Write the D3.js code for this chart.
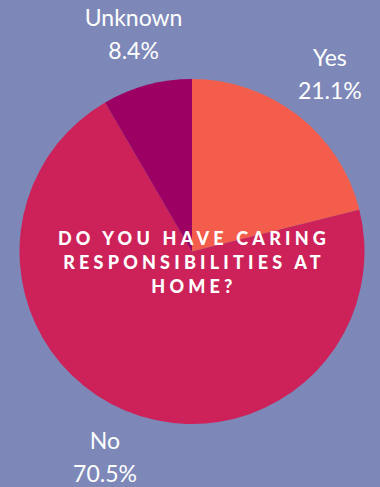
<!DOCTYPE html>
<html>
<head>
<meta charset="utf-8">
<script src="https://cdn.jsdelivr.net/npm/d3@7"></script>
<style>
  html, body { margin: 0; padding: 0; background: #7d88b8; }
  svg { display: block; }
</style>
</head>
<body>
<div id="chart-area"></div>
<script>
// chart data
const categories = ["Yes", "No", "Unknown"];
const shares = [21.1, 70.5, 8.4];
const sliceColors = ["#f45d4b", "#cc2259", "#9c0062"];
const titleLines = ["DO YOU HAVE CARING", "RESPONSIBILITIES AT", "HOME?"];

const width = 380;
const height = 487;
const cx = 192, cy = 251.5;
const radius = 172.5;
const labelRadius = 224;

const data = categories.map((c, i) => ({ name: c, value: shares[i], color: sliceColors[i] }));

const svg = d3.select("#chart-area")
  .append("svg")
  .attr("width", width)
  .attr("height", height);

svg.append("rect")
  .attr("width", width)
  .attr("height", height)
  .attr("fill", "#7d88b8");

const pie = d3.pie().value(d => d.value).sort(null);
const arc = d3.arc().innerRadius(0).outerRadius(radius);
const labelArc = d3.arc().innerRadius(labelRadius).outerRadius(labelRadius);

const g = svg.append("g").attr("transform", `translate(${cx},${cy})`);

g.selectAll("path")
  .data(pie(data))
  .join("path")
  .attr("d", arc)
  .attr("fill", d => d.data.color);

// outside labels: name on top, percentage under it
const labels = g.selectAll("g.label")
  .data(pie(data))
  .join("g")
  .attr("class", "label")
  .attr("transform", d => `translate(${labelArc.centroid(d)})`)
  .attr("fill", "white")
  .attr("font-family", "Lato, 'Open Sans', sans-serif")
  .attr("font-size", 23)
  .attr("text-anchor", "middle");

labels.append("text")
  .attr("y", -9)
  .text(d => d.data.name);

labels.append("text")
  .attr("y", 24)
  .text(d => d.data.value.toFixed(1) + "%");

// title in the middle
svg.append("g")
  .selectAll("text")
  .data(titleLines)
  .join("text")
  .attr("x", cx + 2)
  .attr("y", (d, i) => 245 + i * 24)
  .attr("text-anchor", "middle")
  .attr("fill", "white")
  .attr("font-family", "Lato, 'Open Sans', sans-serif")
  .attr("font-weight", 900)
  .attr("font-size", 18)
  .attr("letter-spacing", 4.2)
  .text(d => d);
</script>
</body>
</html>
